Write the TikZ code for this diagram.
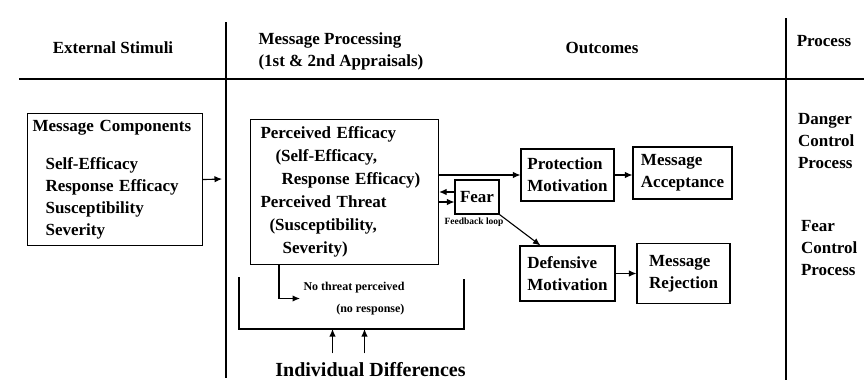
\documentclass[tikz,border=0pt]{standalone}
\usepackage{fontspec}
\setmainfont{Liberation Serif}
\usetikzlibrary{arrows.meta}
\begin{document}
\begin{tikzpicture}[x=1pt,y=-1pt,line width=1.1pt,
  every node/.style={inner sep=3pt,font=\bfseries\fontsize{17}{22}\selectfont},
  box/.style={draw,align=left},
  arr/.style={-{Latex[length=7.5pt,width=6.5pt]}}]
\useasboundingbox (0,0) rectangle (864,388);
% table frame
\draw (19,79) -- (864,79);
\draw (226,22) -- (226,378);
\draw (786,18) -- (786,380);
\node (hes) at (113,48) {External Stimuli};
\node[align=left,anchor=west] (hmp) at (255,51) {Message Processing\\(1st \& 2nd Appraisals)};
\node (hout) at (602,48) {Outcomes};
\node (hpro) at (824,41) {Process};
% stimuli and appraisals
\node[box,anchor=north west,text width=165pt,inner sep=5pt,minimum height=132pt] (mc) at (27,113)
  {Message Components\\[16pt]
   \hspace*{13pt}Self-Efficacy\\ \hspace*{13pt}Response Efficacy\\
   \hspace*{13pt}Susceptibility\\ \hspace*{13pt}Severity};
\coordinate (gap) at (222,179);
\node[box,anchor=north west,text width=168pt,inner xsep=10pt,minimum height=145pt,
  font=\bfseries\fontsize{17}{23}\selectfont] (pp) at (250,119)
  {Perceived Efficacy\\ \hspace*{15pt}(Self-Efficacy,\\ \hspace*{21pt}Response Efficacy)\\
   Perceived Threat\\ \hspace*{9pt}(Susceptibility,\\ \hspace*{22pt}Severity)};
\node[box,minimum width=44pt,minimum height=34pt] (fear) at (477,197) {Fear};
\node[font=\bfseries\fontsize{9.5}{11}\selectfont] (fbl) at (474,222) {Feedback loop};
\node[align=right,anchor=west,font=\bfseries\fontsize{12}{22}\selectfont] (nt) at (300,298.5)
  {No threat perceived\\(no response)};
\node[font=\bfseries\fontsize{20}{24}\selectfont] (id) at (370.5,370) {Individual Differences};
\coordinate (b1) at (332.5,329);
\coordinate (b2) at (364.5,329);
\draw (239,277) |- (464,329) -- (464,279);
% outcomes
\node[box,minimum width=93pt,minimum height=52pt] (pm) at (567.5,175) {Protection\\Motivation};
\node[box,minimum width=99pt,minimum height=52pt] (ma) at (682.5,173) {Message\\Acceptance};
\node[box,minimum width=95pt,minimum height=55pt] (dm) at (567.5,273.5) {Defensive\\Motivation};
\node[box,minimum width=93pt,minimum height=60pt] (mr) at (683.5,273.5) {Message\\Rejection};
\node[align=left,anchor=west] (dcp) at (794.5,141) {Danger\\Control\\Process};
\node[align=left,anchor=west] (fcp) at (797.5,248) {Fear\\Control\\Process};
% connectors
\coordinate (fu) at ([yshift=5pt]fear.west);
\coordinate (fd) at ([yshift=-5pt]fear.west);
\draw[arr] (mc.east) -- (gap);
\draw[arr] (pp.east |- pm.west) -- (pm.west);
\draw[arr] (pm.east) -- (pm.east -| ma.west);
\draw[arr] (fu) -- (fu -| pp.east);
\draw[arr] (fd -| pp.east) -- (fd);
\draw[arr] (fear.south east) -- ([xshift=21pt]dm.north west);
\draw[arr] (dm.east) -- (mr.west);
\draw[arr] ([xshift=29pt]pp.south west) |- (nt.west);
\draw[arr,shorten <=6pt] (id.north -| b1) -- (b1);
\draw[arr,shorten <=6pt] (id.north -| b2) -- (b2);
\end{tikzpicture}
\end{document}
